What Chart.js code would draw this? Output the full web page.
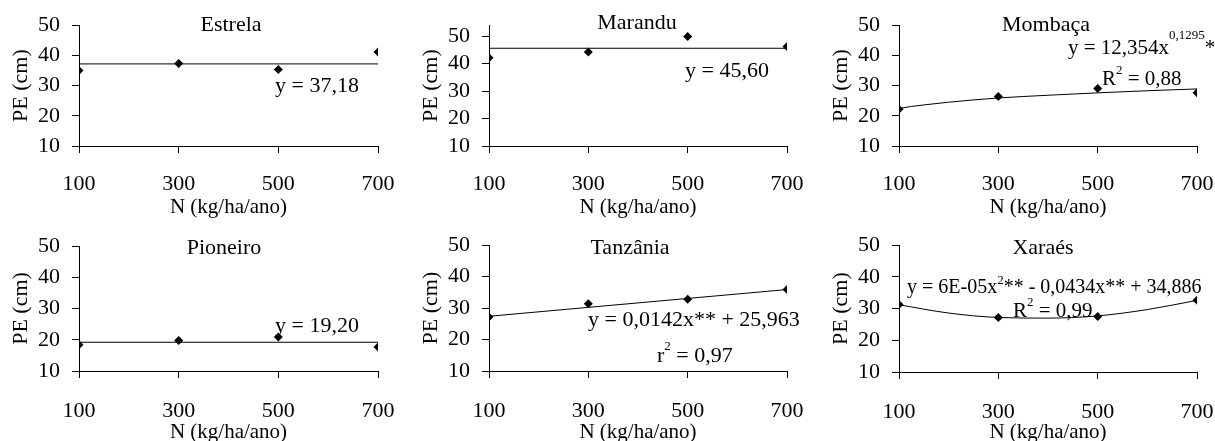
<!DOCTYPE html>
<html>
<head>
<meta charset="utf-8">
<script src="https://cdn.jsdelivr.net/npm/chart.js@4/dist/chart.umd.min.js"></script>
<style>
  html, body { margin: 0; padding: 0; background: #fff; width: 1215px; height: 441px; overflow: hidden; }
  .panel { position: absolute; }
</style>
</head>
<body>
<script>
// N doses (kg/ha/ano) and plant height PE (cm)
const doses = [100, 300, 500, 700];
const xTicks = [100, 300, 500, 700];
const yTicks = [10, 20, 30, 40, 50];

const estrela  = [35.0, 37.3, 35.3, 41.1];
const marandu  = [42.1, 44.2, 49.9, 46.2];
const mombaca  = [22.2, 26.4, 29.0, 27.6];
const pioneiro = [18.4, 19.8, 20.9, 17.7];
const tanzania = [27.2, 31.4, 32.8, 35.9];
const xaraes   = [31.3, 27.2, 27.5, 32.6];

// fitted lines
const flatFitX = [100, 700];
const estrelaFit  = [37.18, 37.18];
const maranduFit  = [45.60, 45.60];
const pioneiroFit = [19.20, 19.20];
const mombacaFitX = [100, 125, 150, 200, 300, 400, 500, 600, 700];
const mombacaFit  = [22.4, 23.1, 23.6, 24.5, 25.9, 26.8, 27.6, 28.3, 28.9];
const tanzaniaFitX = [100, 700];
const tanzaniaFit  = [27.4, 35.9];
const xaraesFitX = [100, 200, 300, 400, 500, 600, 700];
const xaraesFit  = [31.2, 28.6, 27.2, 27.0, 27.7, 29.7, 32.6];

const FONT = '"Liberation Serif", "Times New Roman", serif';
const SIZE = 21;

const panels = [
  { name: 'Estrela', values: estrela, fitX: flatFitX, fit: estrelaFit, yMax: 50,
    box: { cx: 0, cy: 0, w: 405, h: 220 }, area: { left: 79, right: 378, top: 23, bottom: 146 },
    title: [231, 25],
    notes: [ { x: 275, y: 86, parts: [['y = 37,18', 22]] } ] },
  { name: 'Marandu', values: marandu, fitX: flatFitX, fit: maranduFit, yMax: 54,
    box: { cx: 405, cy: 0, w: 405, h: 220 }, area: { left: 489, right: 787, top: 21, bottom: 146 },
    title: [637, 23],
    notes: [ { x: 685, y: 71, parts: [['y = 45,60', 22]] } ] },
  { name: 'Mombaça', values: mombaca, fitX: mombacaFitX, fit: mombacaFit, yMax: 50,
    box: { cx: 810, cy: 0, w: 405, h: 220 }, area: { left: 899, right: 1197, top: 21, bottom: 146 },
    title: [1046, 25],
    notes: [ { x: 1068, y: 48, parts: [['y = 12,354x'], ['0,1295', 13, -12], ['*']] },
             { x: 1102, y: 79, parts: [['R'], ['2', 13, -8], [' = 0,88']] } ] },
  { name: 'Pioneiro', values: pioneiro, fitX: flatFitX, fit: pioneiroFit, yMax: 50,
    box: { cx: 0, cy: 220, w: 405, h: 225 }, area: { left: 79, right: 378, top: 246, bottom: 371 },
    title: [224, 248],
    notes: [ { x: 275, y: 326, parts: [['y = 19,20', 22]] } ] },
  { name: 'Tanzânia', values: tanzania, fitX: tanzaniaFitX, fit: tanzaniaFit, yMax: 50,
    box: { cx: 405, cy: 220, w: 405, h: 225 }, area: { left: 489, right: 787, top: 245, bottom: 371 },
    title: [630, 248],
    notes: [ { x: 588, y: 320, parts: [['y = 0,0142x** + 25,963', 22]] },
             { x: 657, y: 356, parts: [['r', 22], ['2', 13, -9], [' = 0,97', 22]] } ] },
  { name: 'Xaraés', values: xaraes, fitX: xaraesFitX, fit: xaraesFit, yMax: 50,
    box: { cx: 810, cy: 220, w: 405, h: 225 }, area: { left: 899, right: 1197, top: 245, bottom: 372 },
    title: [1043, 248],
    notes: [ { x: 907, y: 288, parts: [['y = 6E-05x', 20], ['2', 13, -7], ['** - 0,0434x** + 34,886', 20]] },
             { x: 1013, y: 311, parts: [['R'], ['2', 13, -8], [' = 0,99']] } ] }
];

// draws panel name and regression text on top of the plot
const textPlugin = {
  id: 'panelText',
  afterDatasetsDraw(chart) {
    const p = chart.options.plugins.panelText.panel;
    const ctx = chart.ctx;
    ctx.save();
    ctx.fillStyle = '#000';
    ctx.textBaseline = 'middle';
    ctx.font = '22px ' + FONT;
    ctx.textAlign = 'center';
    ctx.fillText(p.name, p.title[0] - p.box.cx, p.title[1] - p.box.cy);
    ctx.textAlign = 'left';
    p.notes.forEach(n => {
      let x = n.x - p.box.cx;
      n.parts.forEach(part => {
        const size = part[1] || SIZE;
        const dy = part[2] || 0;
        ctx.font = size + 'px ' + FONT;
        ctx.fillText(part[0], x, n.y - p.box.cy + dy);
        x += ctx.measureText(part[0]).width;
      });
    });
    ctx.restore();
  }
};

function makeChart(p) {
  const div = document.createElement('div');
  div.className = 'panel';
  div.style.left = p.box.cx + 'px';
  div.style.top = p.box.cy + 'px';
  const cv = document.createElement('canvas');
  cv.width = p.box.w;
  cv.height = p.box.h;
  cv.style.width = p.box.w + 'px';
  cv.style.height = p.box.h + 'px';
  div.appendChild(cv);
  document.body.appendChild(div);

  const yWidth = 71;
  const xHeight = p.box.cy + p.box.h - p.area.bottom;
  const font = { family: FONT, size: SIZE };

  new Chart(cv, {
    type: 'scatter',
    data: {
      datasets: [
        {
          data: doses.map((x, i) => ({ x: x, y: p.values[i] })),
          pointStyle: 'rectRot', pointRadius: 4.5, pointBorderWidth: 0,
          backgroundColor: '#000', borderColor: '#000', order: 0
        },
        {
          data: p.fitX.map((x, i) => ({ x: x, y: p.fit[i] })),
          showLine: true, borderColor: '#000', borderWidth: 1, pointRadius: 0,
          cubicInterpolationMode: 'monotone', order: 1
        }
      ]
    },
    options: {
      responsive: false,
      animation: false,
      devicePixelRatio: 1,
      layout: {
        padding: {
          left: p.area.left - p.box.cx - yWidth,
          right: p.box.cx + p.box.w - p.area.right,
          top: p.area.top - p.box.cy,
          bottom: 0
        }
      },
      plugins: { legend: { display: false }, tooltip: { enabled: false }, panelText: { panel: p } },
      scales: {
        x: {
          type: 'linear', min: 100, max: 700,
          afterBuildTicks: s => { s.ticks = xTicks.map(v => ({ value: v })); },
          afterFit: s => { s.height = xHeight; s.paddingLeft = 0; s.paddingRight = 0; },
          grid: { drawOnChartArea: false, tickLength: 7, color: '#000' },
          border: { color: '#000', width: 1 },
          ticks: { padding: p.box.cy ? 20 : 18, color: '#000', font: { family: FONT, size: 22 }, maxRotation: 0 },
          title: { display: true, text: 'N (kg/ha/ano)', color: '#000', font: font, padding: 0 }
        },
        y: {
          type: 'linear', min: 10, max: p.yMax,
          afterBuildTicks: s => { s.ticks = yTicks.map(v => ({ value: v })); },
          afterFit: s => { s.width = yWidth; },
          grid: { drawOnChartArea: false, tickLength: 7, color: '#000' },
          border: { color: '#000', width: 1 },
          ticks: { padding: 12, color: '#000', font: { family: FONT, size: 22 } },
          title: { display: true, text: 'PE (cm)', color: '#000', font: { family: FONT, size: 22 }, padding: 0 }
        }
      }
    },
    plugins: [textPlugin]
  });
}

panels.forEach(makeChart);
</script>
</body>
</html>
